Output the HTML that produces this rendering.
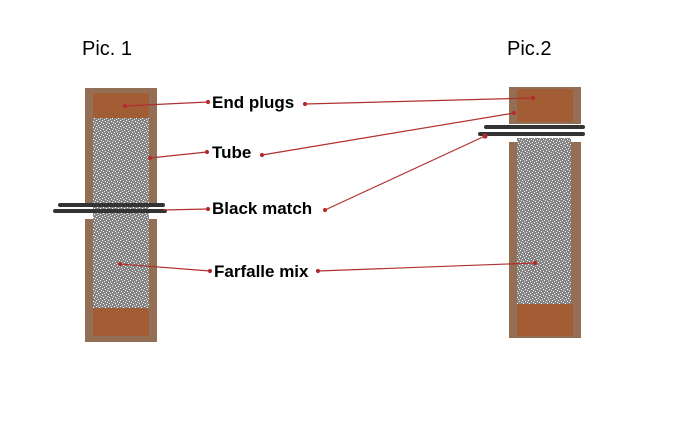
<!DOCTYPE html>
<html><head><style>
body{margin:0;width:697px;height:439px;background:#fff;position:relative;overflow:hidden;font-family:"Liberation Sans",sans-serif}
.t{position:absolute;font-weight:bold;font-size:17px;color:#000}
</style></head><body>
<svg width="697" height="439" style="position:absolute;left:0;top:0">
<defs>
<pattern id="n" width="6" height="6" patternUnits="userSpaceOnUse">
<rect width="6" height="6" fill="#858585"/>
<rect x="0" y="0" width="1" height="1" fill="#fff"/><rect x="3" y="1" width="1" height="1" fill="#fff"/>
<rect x="1" y="3" width="1" height="1" fill="#fff"/><rect x="4" y="4" width="1" height="1" fill="#fff"/>
<rect x="2" y="5" width="1" height="1" fill="#eee"/><rect x="5" y="2" width="1" height="1" fill="#eee"/>
</pattern>
</defs>
<rect x="85" y="88" width="72" height="118" fill="#926f55"/>
<rect x="85" y="219" width="72" height="123" fill="#926f55"/>
<rect x="93" y="93" width="56" height="25" fill="#a35d34"/>
<rect x="93" y="118" width="56" height="90" fill="url(#n)"/>
<rect x="93" y="208" width="56" height="100" fill="url(#n)"/>
<rect x="93" y="308" width="56" height="28" fill="#a35d34"/>
<line x1="60" y1="205" x2="163" y2="205" stroke="#333" stroke-width="4" stroke-linecap="round"/>
<line x1="55" y1="211" x2="165" y2="211" stroke="#333" stroke-width="4" stroke-linecap="round"/>
<rect x="509" y="87" width="72" height="37" fill="#926f55"/>
<rect x="517" y="89" width="56" height="33" fill="#a35d34"/>
<rect x="509" y="142" width="72" height="196" fill="#926f55"/>
<rect x="517" y="138" width="54" height="166" fill="url(#n)"/>
<rect x="517" y="304" width="56" height="32" fill="#a35d34"/>
<line x1="486" y1="127" x2="583" y2="127" stroke="#333" stroke-width="4" stroke-linecap="round"/>
<line x1="480" y1="134" x2="583" y2="134" stroke="#333" stroke-width="4" stroke-linecap="round"/>
<g stroke="#b03030" stroke-width="1.2" fill="#c02020">
<line x1="125" y1="106" x2="208" y2="102"/><circle cx="125" cy="106" r="1.5"/><circle cx="208" cy="102" r="1.5"/>
<line x1="305" y1="104" x2="533" y2="98"/><circle cx="305" cy="104" r="1.5"/><circle cx="533" cy="98" r="1.5"/>
<line x1="150" y1="158" x2="207" y2="152"/><circle cx="150" cy="158" r="1.5"/><circle cx="207" cy="152" r="1.5"/>
<line x1="262" y1="155" x2="514" y2="113"/><circle cx="262" cy="155" r="1.5"/><circle cx="514" cy="113" r="1.5"/>
<line x1="163" y1="210" x2="208" y2="209"/><circle cx="208" cy="209" r="1.5"/>
<line x1="325" y1="210" x2="485" y2="136"/><circle cx="325" cy="210" r="1.5"/><circle cx="485" cy="136" r="2"/>
<line x1="120" y1="264" x2="210" y2="271"/><circle cx="120" cy="264" r="1.5"/><circle cx="210" cy="271" r="1.5"/>
<line x1="318" y1="271" x2="535" y2="263"/><circle cx="318" cy="271" r="1.5"/><circle cx="535" cy="263" r="1.5"/>
</g>
</svg>
<div style="position:absolute;left:82px;top:38px;font-size:20px">Pic. 1</div>
<div style="position:absolute;left:507px;top:38px;font-size:20px">Pic.2</div>
<div class="t" style="left:212px;top:93px">End plugs</div>
<div class="t" style="left:212px;top:143px">Tube</div>
<div class="t" style="left:212px;top:199px">Black match</div>
<div class="t" style="left:214px;top:262px">Farfalle mix</div>
</body></html>
